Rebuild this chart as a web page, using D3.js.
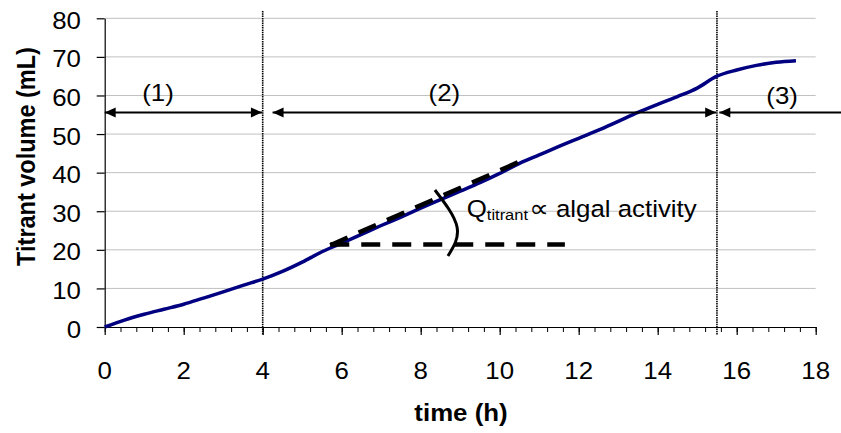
<!DOCTYPE html>
<html>
<head>
<meta charset="utf-8">
<script src="https://cdn.jsdelivr.net/npm/d3@7"></script>
<style>
  body { margin: 0; background: #fff; }
  text { font-family: "Liberation Sans", Arial, sans-serif; fill: #000; }
</style>
</head>
<body>
<div id="chart"></div>
<script>
// titration curve
const hours = [0, 0.5, 1, 1.5, 2, 2.5, 3, 3.5, 4, 4.5, 5, 5.5, 6, 6.5, 7, 7.5, 8, 8.5,
  9, 9.5, 10, 10.5, 11, 11.5, 12, 12.5, 13, 13.5, 14, 14.5, 15, 15.5, 16, 16.5, 17, 17.5];
const volume = [0, 1.8, 3.3, 4.6, 5.9, 7.5, 9.1, 10.8, 12.4, 14.4, 16.8, 19.5, 21.7, 24.0,
  26.3, 28.5, 30.8, 33.0, 35.2, 37.4, 39.8, 42.4, 44.6, 46.8, 48.9, 51.0, 53.3, 55.6,
  57.7, 59.7, 61.9, 65.0, 66.6, 67.8, 68.6, 69.0];

const xTicks = [0, 2, 4, 6, 8, 10, 12, 14, 16, 18];
const yTicks = [0, 10, 20, 30, 40, 50, 60, 70, 80];

// phases
const phaseBounds = [4, 15.5];
const phaseLabels = ["(1)", "(2)", "(3)"];
const phaseLabelPos = [[1.35, 58.6], [8.6, 58.6], [17.15, 57.9]];
const phaseArrows = [[0, 3.98, true, true], [4.25, 15.48, true, true], [15.56, 19.5, true, false]];
const arrowLevel = 55.6;

// slope annotation
const tangent = [[5.71, 21.2], [10.69, 43.7]];
const baseLine = [[5.71, 21.4], [11.65, 21.4]];
const angleArc = [[8.36, 35.5], [8.92, 25.9], [8.69, 18.4]];
const slopeLabelPos = [9.165, 28.4];

const width = 841, height = 433;
const sx = 1.1; // glyphs in the picture are a bit wide

const svg = d3.select("#chart").append("svg")
  .attr("width", width)
  .attr("height", height);

const x = d3.scaleLinear().domain([0, 18]).range([104.7, 815.7]);
const y = d3.scaleLinear().domain([0, 80]).range([327, 18.3]);

function addText(px, py, str, anchor, size, weight) {
  return svg.append("text")
    .attr("transform", `translate(${px},${py}) scale(${sx},1)`)
    .attr("text-anchor", anchor)
    .attr("font-size", size)
    .attr("font-weight", weight || "normal")
    .text(str);
}

// grid
svg.append("g").selectAll("line")
  .data(yTicks.filter(d => d > 0))
  .join("line")
  .attr("x1", x(0)).attr("x2", x(18))
  .attr("y1", d => y(d)).attr("y2", d => y(d))
  .attr("stroke", "#c0c0c0")
  .attr("stroke-width", 1);

// axes
svg.append("g")
  .attr("transform", `translate(0,${y(0)})`)
  .call(d3.axisBottom(x).tickValues(d3.range(0, 18.01, 0.4)).tickSize(5).tickSizeOuter(0).tickFormat(""))
  .call(g => g.select(".domain").remove());

svg.append("g")
  .attr("transform", `translate(0,${y(0)})`)
  .call(d3.axisBottom(x).tickValues(xTicks).tickSize(8).tickSizeOuter(0).tickFormat(""))
  .call(g => g.selectAll("line, path").attr("stroke-width", 1.2));

svg.append("g")
  .attr("transform", `translate(${x(0)},0)`)
  .call(d3.axisLeft(y).tickValues(yTicks).tickSize(8).tickSizeOuter(0).tickFormat(""))
  .call(g => g.selectAll("line, path").attr("stroke-width", 1.2));

xTicks.forEach(d => addText(x(d), 379, d, "middle", 23.5));
yTicks.forEach(d => addText(81, y(d) + 10.5, d, "end", 23.5));

addText(461, 421, "time (h)", "middle", 23.5, "bold");
svg.append("text")
  .attr("transform", "translate(35,156.5) rotate(-90) scale(1,1.1)")
  .attr("text-anchor", "middle")
  .attr("font-size", 23.5)
  .attr("font-weight", "bold")
  .text("Titrant volume (mL)");

// phase boundaries
svg.append("g").selectAll("line")
  .data(phaseBounds)
  .join("line")
  .attr("x1", d => x(d)).attr("x2", d => x(d))
  .attr("y1", 11).attr("y2", y(0) + 8)
  .attr("stroke", "#000")
  .attr("stroke-width", 1.6)
  .attr("stroke-dasharray", "1.5,0.8");

// data line
svg.append("path")
  .datum(hours.map((h, i) => [h, volume[i]]))
  .attr("fill", "none")
  .attr("stroke", "#000080")
  .attr("stroke-width", 3.5)
  .attr("stroke-linejoin", "round")
  .attr("d", d3.line().x(d => x(d[0])).y(d => y(d[1])).curve(d3.curveMonotoneX));

// phase arrows
const ay = y(arrowLevel);
function head(px, dir) {
  svg.append("path")
    .attr("d", `M${px},${ay} L${px + dir * 11},${ay - 5} L${px + dir * 11},${ay + 5} Z`)
    .attr("fill", "#000");
}
phaseArrows.forEach(([a, b, l, r]) => {
  svg.append("line")
    .attr("x1", x(a)).attr("x2", x(b))
    .attr("y1", ay).attr("y2", ay)
    .attr("stroke", "#000").attr("stroke-width", 2);
  if (l) head(x(a), 1);
  if (r) head(x(b), -1);
});
phaseLabels.forEach((t, i) =>
  addText(x(phaseLabelPos[i][0]), y(phaseLabelPos[i][1]), t, "middle", 23.5));

// tangent and angle
const seg = d3.line().x(d => x(d[0])).y(d => y(d[1]));
[tangent, baseLine].forEach(p => svg.append("path")
  .attr("d", seg(p))
  .attr("fill", "none")
  .attr("stroke", "#000")
  .attr("stroke-width", 4.5)
  .attr("stroke-dasharray", "19,12"));

svg.append("path")
  .attr("d", seg.curve(d3.curveNatural)(angleArc))
  .attr("fill", "none")
  .attr("stroke", "#000")
  .attr("stroke-width", 3);

const q = svg.append("text")
  .attr("transform", `translate(${x(slopeLabelPos[0])},${y(slopeLabelPos[1])}) scale(${sx},1)`)
  .attr("font-size", 23.5);
q.append("tspan").text("Q");
q.append("tspan").attr("font-size", 15).attr("dy", 2.7).text("titrant");
q.append("tspan").attr("font-size", 25).attr("dy", -2.7).attr("dx", 1).attr("font-family", "DejaVu Sans").text("\u221D");
q.append("tspan").text(" algal activity");
</script>
</body>
</html>
